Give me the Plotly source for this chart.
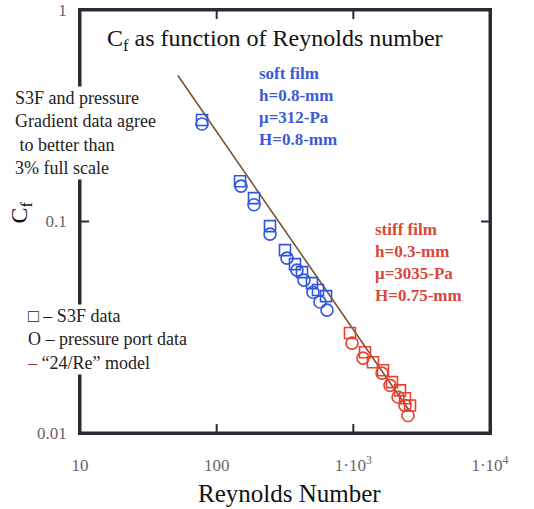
import plotly.graph_objects as go

# ---- data ----
soft_sq_re = [78.1, 148.2, 187.6, 245.6, 316.2, 374.2, 421.1, 498.3, 551.2, 631.0]
soft_sq_cf = [0.302, 0.155, 0.129, 0.0951, 0.0732, 0.0629, 0.0576, 0.0511, 0.0474, 0.0444]
soft_ci_re = [78.1, 150.7, 187.6, 245.6, 327.0, 387.0, 435.5, 506.8, 570.2, 641.8]
soft_ci_cf = [0.289, 0.147, 0.120, 0.0872, 0.0671, 0.0589, 0.0528, 0.0463, 0.0416, 0.0381]

stiff_sq_re = [945, 1217, 1392, 1648, 1919, 2195, 2388, 2598]
stiff_sq_cf = [0.0297, 0.0241, 0.0216, 0.0198, 0.0174, 0.0159, 0.0146, 0.0135]
stiff_ci_re = [978, 1177, 1621, 1855, 2123, 2388, 2512]
stiff_ci_cf = [0.0266, 0.0226, 0.0192, 0.0168, 0.0148, 0.0135, 0.0121]

model_re = [52, 2600]
model_cf = [0.49, 0.0126]

x_range = [10, 10000]
y_range = [0.01, 1]
x_tickvals = [10, 100, 1000, 10000]
x_ticktext = ["10", "100", "1\u00b710<sup>3</sup>", "1\u00b710<sup>4</sup>"]
x_inner_ticks = [100, 1000]
y_tickvals = [0.01, 0.1, 1]
y_ticktext = ["0.01", "0.1", "1"]
y_inner_ticks = [0.1]

BLUE = "#2f55e0"
RED = "#e5422f"
LINE = "#7d5230"
FRAME = "#2b2b36"
SERIF = "Liberation Serif"

fig = go.Figure()
# plot frame along the axis ranges
fig.add_trace(go.Scatter(x=[x_range[0], x_range[1], x_range[1], x_range[0], x_range[0]],
                         y=[y_range[0], y_range[0], y_range[1], y_range[1], y_range[0]],
                         mode="lines", line=dict(color=FRAME, width=3), showlegend=False,
                         hoverinfo="skip"))
fig.add_trace(go.Scatter(x=model_re, y=model_cf, mode="lines",
                         line=dict(color=LINE, width=1.6), showlegend=False))
fig.add_trace(go.Scatter(x=soft_sq_re, y=soft_sq_cf, mode="markers",
                         marker=dict(symbol="square-open", size=11, color=BLUE, line=dict(width=1.6)),
                         showlegend=False))
fig.add_trace(go.Scatter(x=soft_ci_re, y=soft_ci_cf, mode="markers",
                         marker=dict(symbol="circle-open", size=12, color=BLUE, line=dict(width=1.6)),
                         showlegend=False))
fig.add_trace(go.Scatter(x=stiff_sq_re, y=stiff_sq_cf, mode="markers",
                         marker=dict(symbol="square-open", size=11, color=RED, line=dict(width=1.6)),
                         showlegend=False))
fig.add_trace(go.Scatter(x=stiff_ci_re, y=stiff_ci_cf, mode="markers",
                         marker=dict(symbol="circle-open", size=12, color=RED, line=dict(width=1.6)),
                         showlegend=False))

axis_common = dict(type="log", showgrid=False, zeroline=False, showline=True,
                   linecolor=FRAME, linewidth=1.5, mirror=True,
                   automargin=False, ticks="outside", tickcolor="rgba(0,0,0,0)", tickwidth=1,
                   tickfont=dict(family=SERIF, size=17, color="#666666"))

fig.update_xaxes(range=[1, 4], tickvals=x_tickvals, ticktext=x_ticktext, ticklen=16, **axis_common)
fig.update_yaxes(range=[-2, 0], tickvals=y_tickvals, ticktext=y_ticktext, ticklen=8, **axis_common)

# inward ticks on bottom/top and left/right
for xv in x_inner_ticks:
    for anchor, length in ((0, 9), (1, -9)):
        fig.add_shape(type="line", xref="x", yref="paper", x0=xv, x1=xv,
                      ysizemode="pixel", yanchor=anchor, y0=0, y1=length,
                      line=dict(color=FRAME, width=2), layer="above")
for yv in y_inner_ticks:
    for anchor, length in ((0, 9), (1, -9)):
        fig.add_shape(type="line", xref="paper", yref="y", y0=yv, y1=yv,
                      xsizemode="pixel", xanchor=anchor, x0=0, x1=length,
                      line=dict(color=FRAME, width=2), layer="above")

annots = [
    dict(text="C<sub>f</sub> as function of Reynolds number", x=0.476, y=0.928,
         font=dict(family=SERIF, size=24, color="#111111")),
    dict(text="Reynolds Number", x=0.51, y=-0.144,
         font=dict(family=SERIF, size=25, color="#111111")),
    dict(text="C<sub>f</sub>", x=-0.145, y=0.52, textangle=-90,
         font=dict(family=SERIF, size=24, color="#111111")),
    dict(text="S3F and pressure<br>Gradient data agree<br> to better than<br>3% full scale",
         x=-0.163, y=0.71, xanchor="left", align="left", bgcolor="white",
         font=dict(family=SERIF, size=18, color="#222222")),
    dict(text="\u25a1 \u2013 S3F data<br>O \u2013 pressure port data<br><span style='color:#8a3a2a'>\u2013</span> \u201c24/Re\u201d model",
         x=-0.135, y=0.22, xanchor="left", align="left", bgcolor="white",
         font=dict(family=SERIF, size=18, color="#222222")),
    dict(text="<b>soft film<br>h=0.8-mm<br>\u03bc=312-Pa<br>H=0.8-mm</b>",
         x=0.432, y=0.771, xanchor="left", align="left",
         font=dict(family=SERIF, size=17, color="#3a5bd6")),
    dict(text="<b>stiff film<br>h=0.3-mm<br>\u03bc=3035-Pa<br>H=0.75-mm</b>",
         x=0.715, y=0.403, xanchor="left", align="left",
         font=dict(family=SERIF, size=17, color="#d8483a")),
]
for a in annots:
    a.setdefault("xanchor", "center")
    fig.add_annotation(xref="paper", yref="paper", showarrow=False, yanchor="middle", **a)

fig.update_layout(width=534, height=509, margin=dict(l=80, r=44, t=10, b=76),
                  paper_bgcolor="white", plot_bgcolor="white")

fig.write_html("out.html")
